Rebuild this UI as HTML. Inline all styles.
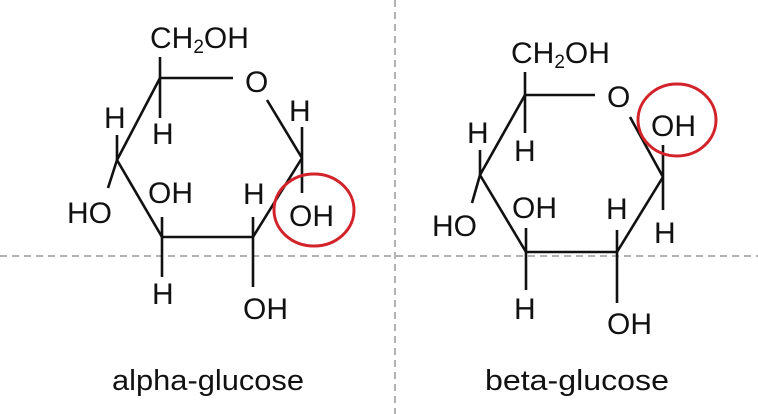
<!DOCTYPE html>
<html><head><meta charset="utf-8"><style>
html,body{margin:0;padding:0;background:#fff;}
svg{display:block;}
text{font-family:"Liberation Sans",Arial,sans-serif;fill:#111;}
</style></head><body>
<svg width="758" height="414" viewBox="0 0 758 414" xmlns="http://www.w3.org/2000/svg">
<line x1="0" y1="256" x2="758" y2="256" stroke="#999" stroke-width="1.5" stroke-dasharray="7,5"/>
<line x1="395" y1="0" x2="395" y2="414" stroke="#999" stroke-width="1.5" stroke-dasharray="7,5"/>
<g stroke="#111" stroke-width="2.6" fill="none" stroke-linecap="butt">
<!-- alpha -->
<line x1="160" y1="57" x2="160" y2="118"/>
<line x1="160" y1="78" x2="233" y2="78"/>
<line x1="267" y1="100" x2="302" y2="158"/>
<line x1="302" y1="127" x2="302" y2="193"/>
<line x1="302" y1="158" x2="253" y2="237"/>
<line x1="253" y1="217" x2="253" y2="287"/>
<line x1="253" y1="237" x2="162" y2="237"/>
<line x1="162" y1="217" x2="162" y2="277"/>
<line x1="162" y1="237" x2="117" y2="160"/>
<line x1="117" y1="135" x2="117" y2="160"/>
<line x1="117" y1="160" x2="108" y2="188"/>
<line x1="117" y1="160" x2="160" y2="78"/>
<!-- beta -->
<line x1="525" y1="72" x2="525" y2="133"/>
<line x1="525" y1="95" x2="595" y2="95"/>
<line x1="630" y1="117" x2="663" y2="177"/>
<line x1="663" y1="145" x2="663" y2="210"/>
<line x1="663" y1="177" x2="617" y2="252"/>
<line x1="617" y1="230" x2="617" y2="303"/>
<line x1="617" y1="252" x2="526" y2="252"/>
<line x1="526" y1="228" x2="526" y2="290"/>
<line x1="526" y1="252" x2="480" y2="175"/>
<line x1="480" y1="150" x2="480" y2="175"/>
<line x1="480" y1="175" x2="472" y2="203"/>
<line x1="480" y1="175" x2="525" y2="95"/>
</g>
<g stroke="#d2232a" stroke-width="3" fill="none">
<ellipse cx="314" cy="210" rx="40" ry="36"/>
<ellipse cx="677" cy="120" rx="39" ry="36"/>
</g>
<g font-size="30">
<!-- alpha -->
<text x="150" y="48">CH<tspan font-size="19" dy="5">2</tspan><tspan dy="-5">OH</tspan></text>
<text x="245" y="92">O</text>
<text x="289" y="121">H</text>
<text x="289" y="226">OH</text>
<text x="243" y="204">H</text>
<text x="243" y="319">OH</text>
<text x="148" y="203">OH</text>
<text x="152" y="304">H</text>
<text x="104" y="128">H</text>
<text x="67" y="223">HO</text>
<text x="152" y="144">H</text>
<!-- beta -->
<text x="511" y="63">CH<tspan font-size="19" dy="5">2</tspan><tspan dy="-5">OH</tspan></text>
<text x="607" y="107">O</text>
<text x="651" y="136">OH</text>
<text x="654" y="243">H</text>
<text x="606" y="219">H</text>
<text x="607" y="334">OH</text>
<text x="512" y="218">OH</text>
<text x="514" y="319">H</text>
<text x="467" y="143">H</text>
<text x="432" y="236">HO</text>
<text x="514" y="161">H</text>
</g>
<text x="112" y="390" font-size="29" textLength="192" lengthAdjust="spacingAndGlyphs">alpha-glucose</text>
<text x="485" y="390" font-size="29" textLength="184" lengthAdjust="spacingAndGlyphs">beta-glucose</text>
</svg>
</body></html>
